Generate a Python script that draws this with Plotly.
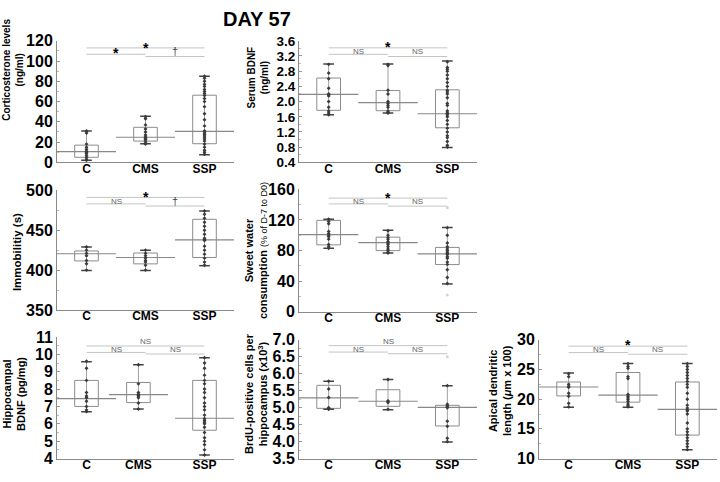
import plotly.graph_objects as go

W, H = 720, 482
groups = ["C", "CMS", "SSP"]

# ---------------- data ----------------
# Panel 1: Corticosterone levels (ng/ml)
cort_pts = [
    [31, 29, 18, 15, 13, 11, 10, 9, 7, 5, 3, 2],
    [45, 43, 37, 33, 30, 27, 25, 24, 23, 22, 20, 18],
    [85, 83, 80, 77, 75, 72, 70, 68, 66, 63, 60, 55, 48, 42, 36, 31, 30, 28, 27, 25, 23, 21, 18, 15, 12, 10, 8],
]
cort_low = [2, 18.4, 7.6]
cort_q1 = [5, 21, 18.4]
cort_q3 = [17, 34.6, 66.3]
cort_high = [31, 45.4, 85]
cort_mid = [10.5, 24.8, 30.5]
cort_out = [[], [], []]
cort_sig = ["*", "*", "†"]

# Panel 2: Serum BDNF (ng/ml)
sbdnf_pts = [
    [2.98, 2.75, 2.6, 2.35, 2.2, 2.18, 2.15, 2.0, 1.85, 1.75, 1.7, 1.65],
    [2.98, 2.95, 2.3, 2.2, 2.0, 1.95, 1.9, 1.85, 1.75, 1.72, 1.7],
    [3.05, 2.9, 2.85, 2.8, 2.7, 2.6, 2.5, 2.4, 2.3, 2.25, 2.2, 2.1, 1.95, 1.9, 1.75, 1.7,
     1.68, 1.65, 1.6, 1.5, 1.4, 1.3, 1.2, 1.1, 1.05, 0.95, 0.85, 0.8],
]
sbdnf_low = [1.65, 1.7, 0.79]
sbdnf_q1 = [1.77, 1.76, 1.31]
sbdnf_q3 = [2.62, 2.29, 2.31]
sbdnf_high = [2.99, 2.99, 3.07]
sbdnf_mid = [2.19, 1.97, 1.68]
sbdnf_out = [[], [], []]
sbdnf_sig = ["*", "NS", "NS"]

# Panel 3: Immobility (s)
immo_pts = [
    [429, 425, 421, 418, 412, 408, 400],
    [425, 421, 418, 415, 412, 410, 406, 400],
    [474, 470, 465, 460, 455, 450, 445, 440, 438, 437, 430, 425, 420, 415, 410, 406],
]
immo_low = [399.5, 399.5, 405.5]
immo_q1 = [411.5, 407.8, 415.8]
immo_q3 = [424, 421.4, 463.7]
immo_high = [428.8, 424.8, 474.2]
immo_mid = [420.5, 415.8, 438]
immo_out = [[], [], []]
immo_sig = ["*", "NS", "†"]

# Panel 4: Sweet water consumption (% of D-7 to D0)
sweet_pts = [
    [121, 118, 115, 105, 102, 100, 98, 95, 88, 85, 83],
    [106, 100, 97, 95, 92, 90, 88, 85, 82, 80, 78, 77],
    [110, 100, 90, 85, 82, 80, 78, 76, 75, 72, 70, 65, 62, 55, 45, 37],
]
sweet_low = [83, 77, 36.5]
sweet_q1 = [87.5, 80, 61.8]
sweet_q3 = [119.5, 97.6, 84.2]
sweet_high = [121, 106.5, 110.3]
sweet_mid = [101, 90.5, 75.7]
sweet_out = [[], [], [136, 22]]
sweet_sig = ["*", "NS", "NS"]

# Panel 5: Hippocampal BDNF (pg/mg)
hbdnf_pts = [
    [9.6, 9.2, 8.5, 7.8, 7.6, 7.5, 7.3, 7.0, 6.8, 6.7],
    [9.4, 8.3, 7.8, 7.7, 7.65, 7.6, 7.5, 7.2, 6.85],
    [9.8, 9.5, 9.2, 8.8, 8.5, 8.3, 8.0, 7.8, 7.5, 7.2, 7.0, 6.8, 6.5, 6.3, 6.2, 6.1,
     6.0, 5.8, 5.5, 5.2, 5.0, 4.8, 4.5, 4.2],
]
hbdnf_low = [6.7, 6.85, 4.2]
hbdnf_q1 = [7.0, 7.22, 5.63]
hbdnf_q3 = [8.5, 8.38, 8.5]
hbdnf_high = [9.58, 9.4, 9.8]
hbdnf_mid = [7.45, 7.68, 6.32]
hbdnf_out = [[], [], []]
hbdnf_sig = ["NS", "NS", "NS"]

# Panel 6: BrdU-positive cells per hippocampus (x10^3)
brdu_pts = [
    [5.78, 5.55, 5.3, 5.0, 4.97, 4.95],
    [5.83, 5.2, 5.18, 5.15, 4.95],
    [5.65, 5.1, 5.05, 5.02, 5.0, 4.6, 4.45, 4.1, 4.0],
]
brdu_low = [4.95, 4.94, 3.99]
brdu_q1 = [4.98, 5.04, 4.46]
brdu_q3 = [5.66, 5.53, 5.07]
brdu_high = [5.78, 5.83, 5.65]
brdu_mid = [5.29, 5.19, 5.01]
brdu_out = [[], [], [6.5]]
brdu_sig = ["NS", "NS", "NS"]

# Panel 7: Apical dendritic length (um x 100)
apical_pts = [
    [24.3, 23.8, 22.5, 22.2, 22.0, 21.0, 20.5, 19.3, 18.7],
    [26, 25.5, 25.2, 23.8, 23.5, 20.8, 20.5, 20.2, 19.9, 19.6, 19.2, 18.9, 18.7],
    [26, 25.5, 25, 24.5, 24, 23.5, 23, 22.5, 22, 21, 20, 19, 18.5, 18.2, 18, 17.5,
     16, 15, 14.5, 14, 13.5, 13, 12.5, 12, 11.5],
]
apical_low = [18.65, 18.65, 11.5]
apical_q1 = [20.55, 19.5, 13.95]
apical_q3 = [22.9, 24.5, 22.9]
apical_high = [24.4, 26, 26]
apical_mid = [22.06, 20.7, 18.28]
apical_out = [[], [], []]
apical_sig = ["*", "NS", "NS"]

# ---------------- layout config ----------------
panels = [
    dict(pts=cort_pts, low=cort_low, q1=cort_q1, q3=cort_q3, high=cort_high, mid=cort_mid,
         out=cort_out, sig=cort_sig, pos=[0, 1, 2],
         xpx=(57, 234), ypx=(34, 160), yr=[0, 120], dtick=20, minor=10, fmt="", tfs=16,
         siglines=(113, 106.7, 104.5), sigtext_y=(113, 107.5, 109.5),
         label="Corticosterone levels<br>(ng/ml)", lab_xy=(13, 64), lab_size=10),
    dict(pts=sbdnf_pts, low=sbdnf_low, q1=sbdnf_q1, q3=sbdnf_q3, high=sbdnf_high, mid=sbdnf_mid,
         out=sbdnf_out, sig=sbdnf_sig, pos=[0, 1, 2],
         xpx=(299, 477), ypx=(34, 160), yr=[0.4, 3.6], dtick=0.4, minor=0.2, fmt=".1f", tfs=13.5,
         siglines=(3.415, 3.244, 3.186), sigtext_y=(3.44, 3.31, 3.31),
         label="Serum BDNF<br>(ng/ml)", lab_xy=(258, 72), lab_size=10),
    dict(pts=immo_pts, low=immo_low, q1=immo_q1, q3=immo_q3, high=immo_high, mid=immo_mid,
         out=immo_out, sig=immo_sig, pos=[0, 1, 2],
         xpx=(57, 234), ypx=(189, 313), yr=[350, 500], dtick=50, minor=25, fmt="", tfs=16,
         siglines=(491.1, 483, 480.3), sigtext_y=(491.5, 486.3, 486.3),
         label="Immobilitiy (s)", lab_xy=(17, 253), lab_size=11.5),
    dict(pts=sweet_pts, low=sweet_low, q1=sweet_q1, q3=sweet_q3, high=sweet_high, mid=sweet_mid,
         out=sweet_out, sig=sweet_sig, pos=[0, 1, 2],
         xpx=(299, 477), ypx=(188, 315), yr=[0, 160], dtick=40, minor=20, fmt="", tfs=16,
         siglines=(148.6, 141, 138.1), sigtext_y=(149, 144, 144),
         label="Sweet water<br>consumption <span style='font-size:9px;font-weight:normal'>(% of D-7 to D0)</span>",
         lab_xy=(256, 252), lab_size=11),
    dict(pts=hbdnf_pts, low=hbdnf_low, q1=hbdnf_q1, q3=hbdnf_q3, high=hbdnf_high, mid=hbdnf_mid,
         out=hbdnf_out, sig=hbdnf_sig, pos=[0, 0.88, 2],
         xpx=(57, 234), ypx=(341, 467), yr=[4, 11], dtick=1, minor=0.5, fmt="", tfs=16,
         siglines=(10.48, 10.11, 10.02), sigtext_y=(10.72, 10.29, 10.29),
         label="Hippocampal<br>BDNF (pg/mg)", lab_xy=(14, 400), lab_size=11),
    dict(pts=brdu_pts, low=brdu_low, q1=brdu_q1, q3=brdu_q3, high=brdu_high, mid=brdu_mid,
         out=brdu_out, sig=brdu_sig, pos=[0, 1, 2],
         xpx=(299, 477), ypx=(344, 467), yr=[3.5, 7.0], dtick=0.5, minor=0.25, fmt=".1f", tfs=16,
         siglines=(6.83, 6.64, 6.59), sigtext_y=(6.95, 6.73, 6.73),
         label="BrdU-positive cells per<br>hippocampus (x10<sup>3</sup>)", lab_xy=(256, 400), lab_size=11),
    dict(pts=apical_pts, low=apical_low, q1=apical_q1, q3=apical_q3, high=apical_high, mid=apical_mid,
         out=apical_out, sig=apical_sig, pos=[0, 1, 2],
         xpx=(539, 717), ypx=(344, 467), yr=[10, 30], dtick=5, minor=2.5, fmt="", tfs=16,
         siglines=(28.94, 27.86, 27.58), sigtext_y=(29.1, 28.3, 28.3),
         label="Apical dendritic<br>length (<i>μ</i>m x 100)", lab_xy=(500, 397), lab_size=11),
]

FONT = "Liberation Sans, Arial, Helvetica, sans-serif"
BOXW = 0.2
CAPW = 0.09

fig = go.Figure()
layout = dict(width=W, height=H, margin=dict(l=0, r=0, t=0, b=0),
              paper_bgcolor="white", plot_bgcolor="white", showlegend=False,
              font=dict(family=FONT, color="black"))
shapes, annotations = [], []

for i, p in enumerate(panels, start=1):
    sx = "" if i == 1 else str(i)
    xa, ya = "x" + sx, "y" + sx
    pos = p["pos"]
    wx, wy, cx, cy, bx, by, mx, my, px, py, ox, oy = ([] for _ in range(12))
    for g in range(3):
        c = pos[g]
        wx += [c, c, None]
        wy += [p["low"][g], p["high"][g], None]
        cx += [c - CAPW, c + CAPW, None, c - CAPW, c + CAPW, None]
        cy += [p["low"][g], p["low"][g], None, p["high"][g], p["high"][g], None]
        bx += [c - BOXW, c + BOXW, c + BOXW, c - BOXW, c - BOXW, None]
        by += [p["q1"][g], p["q1"][g], p["q3"][g], p["q3"][g], p["q1"][g], None]
        mx += [c - 0.5, c + 0.5, None]
        my += [p["mid"][g], p["mid"][g], None]
        px += [c] * len(p["pts"][g])
        py += p["pts"][g]
        ox += [c] * len(p["out"][g])
        oy += p["out"][g]
    common = dict(xaxis=xa, yaxis=ya, hoverinfo="skip", showlegend=False, cliponaxis=False)
    fig.add_trace(go.Scatter(x=bx, y=by, mode="lines", line=dict(color="#8c8c8c", width=1), **common))
    fig.add_trace(go.Scatter(x=wx, y=wy, mode="lines", line=dict(color="#a0a0a0", width=1), **common))
    fig.add_trace(go.Scatter(x=cx, y=cy, mode="lines", line=dict(color="#444", width=1.5), **common))
    fig.add_trace(go.Scatter(x=mx, y=my, mode="lines", line=dict(color="#888", width=1.2), **common))
    fig.add_trace(go.Scatter(x=px, y=py, mode="markers",
                             marker=dict(symbol="diamond", size=3, color="#3a3a3a"), **common))
    if ox:
        fig.add_trace(go.Scatter(x=ox, y=oy, mode="markers",
                                 marker=dict(symbol="circle", size=3, color="#d4d4d4"), **common))

    x0, x1 = p["xpx"]
    yt, yb = p["ypx"]
    layout["xaxis" + sx] = dict(domain=[x0 / W, x1 / W], range=[-0.5, 2.5], anchor=ya,
                                tickmode="array", tickvals=pos, ticktext=groups,
                                showline=True, linecolor="#8a8a8a", linewidth=1, ticks="",
                                ticklabelstandoff=-5,
                                showgrid=False, zeroline=False,
                                tickfont=dict(family=FONT, size=12, color="black", weight="bold"))
    layout["yaxis" + sx] = dict(domain=[1 - yb / H, 1 - yt / H], range=p["yr"], anchor=xa,
                                tick0=p["yr"][0], dtick=p["dtick"], tickformat=p["fmt"],
                                showline=True, linecolor="#8a8a8a", linewidth=1,
                                ticks="inside", ticklen=3, tickcolor="#999",
                                minor=dict(ticks="inside", ticklen=2, dtick=p["minor"], tickcolor="#bbb"),
                                showgrid=False, zeroline=False,
                                tickfont=dict(family=FONT, size=p["tfs"], color="black", weight="bold"))

    # significance bars
    ytop, yl, yr_ = p["siglines"]
    lc = dict(color="#c4c4c4", width=1)
    shapes.append(dict(type="line", xref=xa, yref=ya, x0=0, x1=2, y0=ytop, y1=ytop, line=lc))
    shapes.append(dict(type="line", xref=xa, yref=ya, x0=0, x1=1, y0=yl, y1=yl, line=lc))
    shapes.append(dict(type="line", xref=xa, yref=ya, x0=1, x1=2, y0=yr_, y1=yr_, line=lc))
    for txt, xx, yy in zip(p["sig"], [1, 0.5, 1.5], p["sigtext_y"]):
        if txt == "NS":
            f = dict(family=FONT, size=8, color="#666")
        elif txt == "*":
            f = dict(family=FONT, size=14, color="black", weight="bold")
        else:
            f = dict(family=FONT, size=11, color="#444")
        annotations.append(dict(text=txt, x=xx, y=yy, xref=xa, yref=ya, showarrow=False,
                                xanchor="center", yanchor="middle", font=f))

    lx, ly = p["lab_xy"]
    annotations.append(dict(text=p["label"], x=lx / W, y=1 - ly / H, xref="paper", yref="paper",
                            showarrow=False, textangle=-90, xanchor="center", yanchor="middle",
                            font=dict(family=FONT, size=p["lab_size"], color="black", weight="bold")))

annotations.append(dict(text="<b>DAY 57</b>", x=257 / W, y=1 - 11 / H, xref="paper", yref="paper",
                        showarrow=False, xanchor="center", yanchor="middle",
                        font=dict(family=FONT, size=20, color="black")))

layout["shapes"] = shapes
layout["annotations"] = annotations
fig.update_layout(**layout)
fig.write_html("out.html", config={"displayModeBar": False},
               post_script="document.body.style.margin='0px';document.body.style.overflow='hidden';")
